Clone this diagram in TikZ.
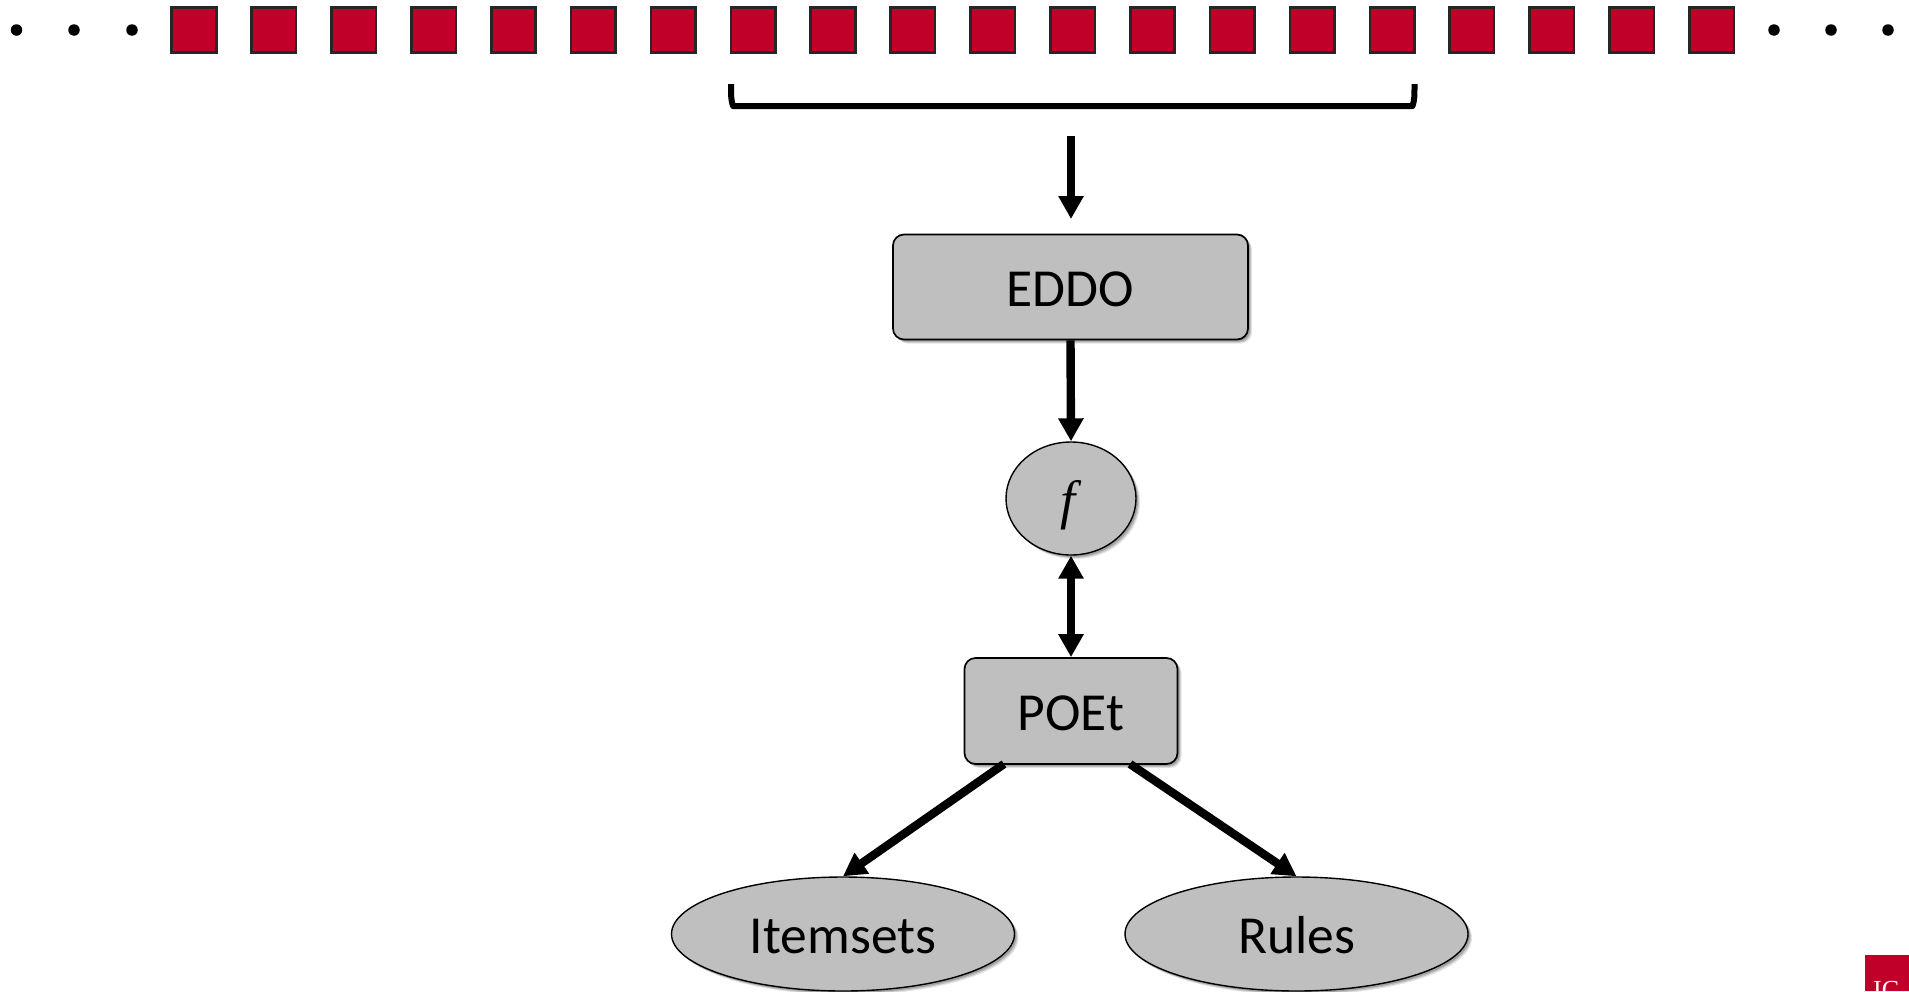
\documentclass[tikz,border=0pt]{standalone}
\usepackage{fontspec}
\setmainfont{Carlito}
\newfontfamily\fserif{Liberation Serif}
\usetikzlibrary{arrows.meta,shapes.geometric,shadows}
\definecolor{crimson}{HTML}{C00028}
\definecolor{boxgrey}{HTML}{BFBFBF}
\tikzset{
  softshadow/.style={
    drop shadow={shadow xshift=4pt,shadow yshift=-4pt,opacity=.10,fill=black},
    drop shadow={shadow xshift=3pt,shadow yshift=-3pt,opacity=.14,fill=black},
    drop shadow={shadow xshift=2pt,shadow yshift=-2pt,opacity=.18,fill=black}},
  lbl/.style={font=\fontsize{53.5}{60}\selectfont,text=black,text height=38pt,text depth=0pt},
  proc/.style={draw=black,line width=1.7pt,fill=boxgrey,rounded corners=11pt,softshadow,lbl,inner sep=0pt},
  oval/.style={ellipse,draw=black,line width=1.4pt,fill=boxgrey,softshadow,lbl,inner sep=0pt},
  cell/.style={draw=black!85,line width=2.6pt,fill=crimson,minimum size=44.5pt,inner sep=0pt},
  blob/.style={circle,fill=black,minimum size=11.5pt,inner sep=0pt},
  conn/.style={line width=8.4pt,-{Triangle[length=23pt,width=24pt]}},
  dconn/.style={line width=8.4pt,{Triangle[length=23pt,width=24pt]}-{Triangle[length=23pt,width=24pt]}},
}
\begin{document}
\begin{tikzpicture}[x=1pt,y=-1pt]
\useasboundingbox (0,0) rectangle (1909,991);
\clip (0,0) rectangle (1909,991);
\foreach \i [count=\n] in {16.5,74,132,1774,1831,1888}
  \node[blob] (dot\n) at (\i,30) {};
\foreach \n in {0,...,19}
  \node[cell] (sq\n) at ({194+\n*79.87},30) {};
\draw[line width=6pt,line join=round] (731,84) .. controls (731,96) and (731,100) .. (733,106) -- (1412.5,106) .. controls (1414.5,100) and (1414.5,96) .. (1414.5,84);
\node[proc,minimum width=355pt,minimum height=105pt] (eddo) at (1070.5,287) {EDDO};
\node[oval,minimum width=130pt,minimum height=113pt] (f) at (1071,498.5) {\raisebox{-0.5pt}[0pt][0pt]{\makebox[0pt]{\kern-6pt\fserif\itshape\fontsize{54}{60}\selectfont f}}};
\node[proc,minimum width=213pt,minimum height=106pt] (poet) at (1071,711) {POEt};
\node[oval,minimum width=343pt,minimum height=114pt] (items) at (843,934) {Itemsets};
\node[oval,minimum width=343pt,minimum height=114pt] (rules) at (1296.5,934) {Rules};
\coordinate (feed) at (1071,136);
\coordinate (feedend) at (1071,219);
\coordinate (pl) at (1004,764);
\coordinate (pr) at (1130,764);
\draw[conn] (feed) -- (feedend);
\draw[conn] (eddo.south) -- (f.north);
\draw[dconn] (f.south) -- (poet.north);
\draw[conn] (pl) -- (items.north);
\draw[conn] (pr) -- (rules.north);
\fill[crimson] (1865,955) rectangle (1909,991);
\node[anchor=north west,inner sep=0pt,text=white,font=\fontspec{Liberation Serif}\fontsize{26}{30}\selectfont] (logo) at (1873,981) {IC};
\end{tikzpicture}
\end{document}
